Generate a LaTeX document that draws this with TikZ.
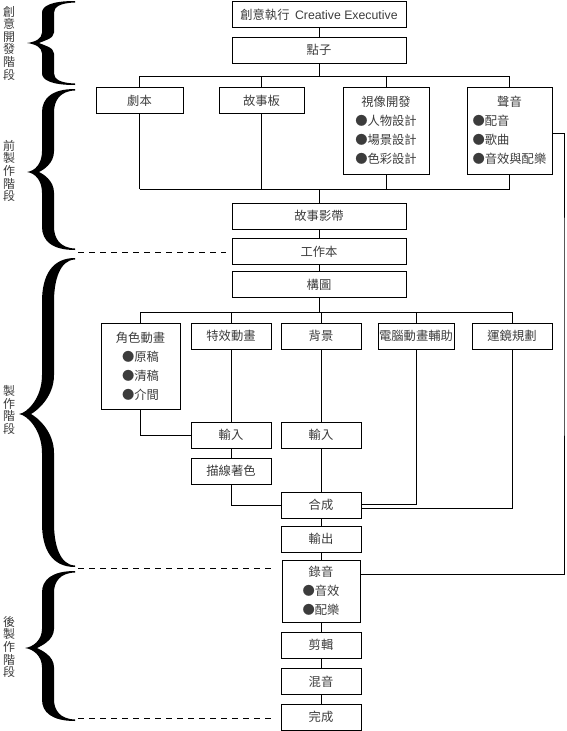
\documentclass[tikz,border=0pt]{standalone}
\usepackage{fontspec}
\setmainfont{Noto Sans CJK TC}
\newfontfamily\latinfont{Liberation Sans}

\definecolor{inkgray}{RGB}{60,60,60}

% filled curly brace: top y, tip y, bottom y, tip x
\newcommand{\phasebrace}[4]{%
  \pgfmathsetmacro{\brEnd}{(#2-#1)*0.28}%
  \pgfmathsetmacro{\brMid}{(#2-#1)*0.25}%
  \fill (75,#1) .. controls (52,#1) and (42,#1+0.4*\brEnd) .. (42,#1+\brEnd)
    -- (42,#2-\brMid) .. controls (42,#2-0.4*\brMid) and (#4+8,#2-1) .. (#4,#2)
    .. controls (#4+8,#2+1) and (42,#2+0.4*\brMid) .. (42,#2+\brMid)
    -- (42,#3-\brEnd) .. controls (42,#3-0.4*\brEnd) and (52,#3) .. (75,#3)
    -- (75,#3-1.5) .. controls (60,#3-2) and (54,#3-0.5*\brEnd) .. (54,#3-\brEnd)
    -- (54,#2+\brMid) .. controls (54,#2+0.4*\brMid) and (#4+16,#2+2) .. (#4+12,#2)
    .. controls (#4+16,#2-2) and (54,#2-0.4*\brMid) .. (54,#2-\brMid)
    -- (54,#1+\brEnd) .. controls (54,#1+0.5*\brEnd) and (60,#1+2) .. (75,#1+1.5) -- cycle;
}

\begin{document}
\begin{tikzpicture}[x=1pt, y=-1pt, line width=0.9pt, text=inkgray,
  font=\fontsize{12.3pt}{19pt}\selectfont]
\tikzset{
  stagebox/.style={draw, align=center, minimum height=26pt, inner sep=2pt},
  widebox/.style={stagebox, minimum width=174pt},
  subbox/.style={stagebox, minimum width=80pt},
  listbox/.style={draw, align=center, inner sep=2pt},
  phaselabel/.style={align=center, font=\fontsize{12pt}{12.6pt}\selectfont},
  phaseline/.style={dash pattern=on 6pt off 5pt, line width=0.8pt, shorten >=6pt}
}
\useasboundingbox (0,0) rectangle (566,731);

% phases
\phasebrace{1}{43}{85}{27}
\phasebrace{89}{172}{250}{27}
\phasebrace{258}{414}{567}{19}
\phasebrace{571}{648}{721}{25}
\node[phaselabel] (ph1) at (9,43) {創\\意\\開\\發\\階\\段};
\node[phaselabel] (ph2) at (9,171) {前\\製\\作\\階\\段};
\node[phaselabel] (ph3) at (9,410) {製\\作\\階\\段};
\node[phaselabel] (ph4) at (9,647) {後\\製\\作\\階\\段};

% pre-production
\node[widebox] (ce) at (319,14.5) {創意執行\ \ {\latinfont Creative Executive}};
\node[widebox] (idea) at (319,50) {點子};
\node[stagebox, minimum width=87pt] (script) at (139.5,100.5) {劇本};
\node[stagebox, minimum width=85pt] (board) at (261.5,100.5) {故事板};
\node[listbox, minimum width=86pt, minimum height=87pt] (visual) at (386,130.5)
  {視像開發\\●人物設計\\●場景設計\\●色彩設計};
\node[listbox, minimum width=85pt, minimum height=87pt, text width=74pt, align=left] (sound) at (509.5,130.5)
  {\makebox[74pt]{聲音}\\●配音\\●歌曲\\●音效與配樂};
\node[widebox] (reel) at (319,216) {故事影帶};
\node[widebox] (work) at (319,251.5) {工作本};
\node[widebox] (layout) at (319,284.5) {構圖};

% production
\node[listbox, minimum width=79pt, minimum height=86pt] (char) at (140.5,366)
  {角色動畫\\●原稿\\●清稿\\●介間};
\node[subbox] (fx) at (231,336) {特效動畫};
\node[subbox] (bg) at (321,336) {背景};
\node[stagebox, minimum width=76pt, inner xsep=0.5pt] (cg) at (416,336) {電腦動畫輔助};
\node[subbox] (cam) at (512,336) {運鏡規劃};
\node[subbox] (in1) at (231,435) {輸入};
\node[subbox] (in2) at (321,435) {輸入};
\node[subbox] (ink) at (231,471) {描線著色};
\node[subbox] (comp) at (321,505) {合成};
\node[subbox] (out) at (321,539) {輸出};

% post-production
\node[listbox, minimum width=78pt, minimum height=62pt] (rec) at (321,591)
  {錄音\\●音效\\●配樂};
\node[subbox] (edit) at (321,645) {剪輯};
\node[subbox] (mix) at (321,681.5) {混音};
\node[subbox] (done) at (321,717) {完成};

% connectors
\coordinate (bar1) at (319,76);
\coordinate (bar2) at (319,189);
\coordinate (bar3) at (319,312);
\draw (ce) -- (idea);
\draw (idea) -- (idea |- bar1);
\draw (script |- bar1) -- (sound |- bar1);
\foreach \n in {script,board,visual,sound} {
  \draw (\n.north) -- (\n |- bar1);
  \draw (\n.south) -- (\n |- bar2);
}
\draw (script |- bar2) -- (sound |- bar2);
\draw (reel |- bar2) -- (reel);
\draw (reel) -- (work) -- (layout);
\draw (layout) -- (layout |- bar3);
\draw (char |- bar3) -- (cam |- bar3);
\foreach \n in {char,fx,bg,cg,cam}
  \draw (\n.north) -- (\n |- bar3);
\draw (char.south) |- (in1.west);
\draw (fx) -- (in1) -- (ink);
\draw (bg) -- (in2) -- (comp);
\draw (ink.south) |- (comp.west);
\draw (cg.south) |- ([yshift=1pt]comp.east);
\draw (cam.south) |- ([yshift=-3pt]comp.east);
\draw (comp) -- (out) -- (rec) -- (edit) -- (mix) -- (done);
\coordinate (rside) at (564,300);
\draw ([yshift=-2.5pt]sound.east) -| (rside) |- ([yshift=17pt]rec.east);

% phase borders
\coordinate (cut1) at (78,252);
\coordinate (cut2) at (78,568);
\coordinate (cut3) at (78,718);
\draw[phaseline] (cut1) -- (cut1 -| work.west);
\draw[phaseline] (cut2) -- (cut2 -| rec.west);
\draw[phaseline] (cut3) -- (cut3 -| done.west);
\end{tikzpicture}
\end{document}
